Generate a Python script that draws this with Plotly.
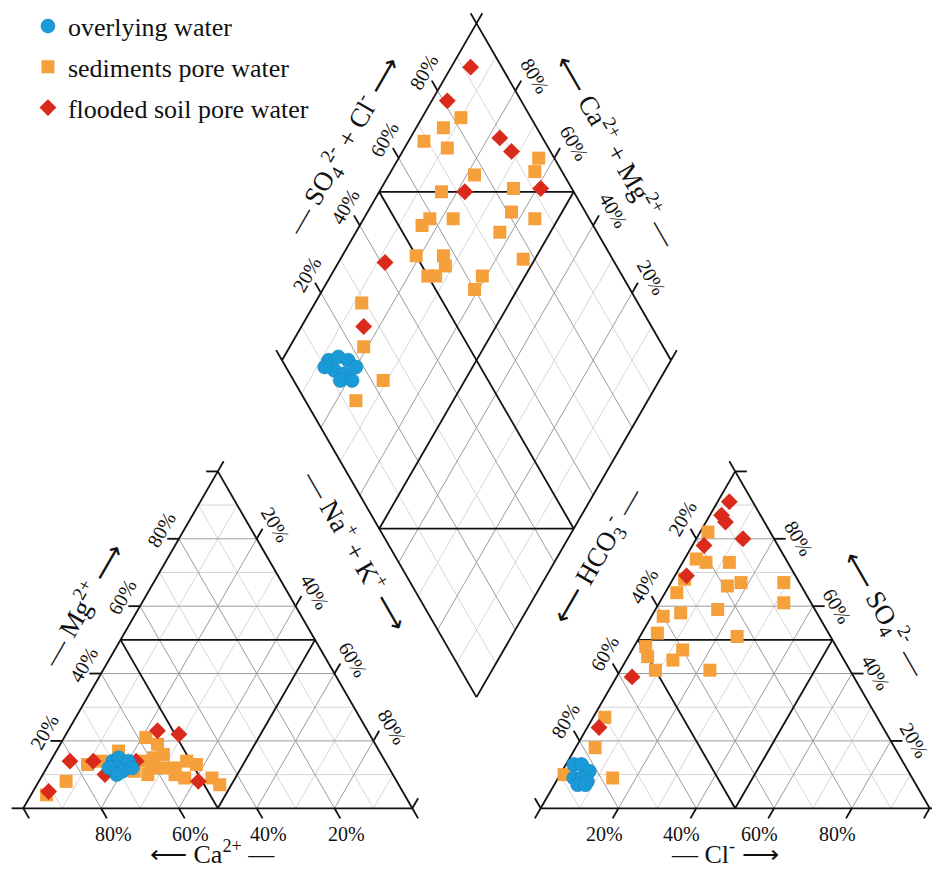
import numpy as np
import plotly.graph_objects as go

# ---------------- values (percent of meq/L) ----------------
# Cation triangle: Ca2+, Mg2+, Na+ + K+
ow_ca  = [70, 68, 66, 70, 69, 66, 72, 71]
ow_mg  = [14, 15, 14, 12, 11, 12, 12, 10]
ow_nak = [16, 17, 20, 18, 20, 22, 16, 19]

sp_ca  = [58, 56, 67, 56, 59, 62, 77, 61, 58, 56, 51, 49, 54, 47, 46, 85, 92, 66, 63, 55, 70, 65, 73]
sp_mg  = [21, 19, 17, 16, 15, 14, 13, 12, 12, 10, 14, 13, 9, 9, 7, 8, 4, 11, 10, 12, 13, 13, 14]
sp_nak = [21, 25, 16, 28, 26, 24, 10, 27, 30, 34, 35, 38, 37, 44, 47, 7, 4, 23, 27, 33, 17, 22, 13]

fs_ca  = [54, 49, 81, 75, 74, 64, 51, 91]
fs_mg  = [23, 22, 14, 14, 10, 14, 8, 5]
fs_nak = [23, 29, 5, 11, 16, 22, 41, 4]

# Anion triangle: HCO3-, SO4 2-, Cl-
ow_hco3 = [85, 83, 82, 87, 85, 84, 87, 85]
ow_so4  = [13, 13, 11, 9, 9, 8, 7, 7]
ow_cl   = [2, 4, 7, 4, 6, 8, 6, 8]

sp_hco3 = [16, 23, 21, 15, 29, 19, 15, 4, 7, 33, 25, 35, 40, 44, 24, 49, 50, 40, 44, 50, 36, 70, 77, 77, 89]
sp_so4  = [82, 74, 73, 73, 68, 66, 67, 67, 61, 64, 59, 58, 57, 52, 51, 48, 45, 47, 44, 41, 41, 27, 18, 9, 10]
sp_cl   = [2, 3, 6, 12, 3, 15, 18, 29, 32, 3, 16, 7, 3, 4, 25, 3, 5, 13, 12, 9, 23, 3, 5, 14, 1]

fs_hco3 = [6, 10, 10, 8, 19, 28, 57, 73]
fs_so4  = [91, 87, 85, 80, 78, 69, 39, 24]
fs_cl   = [3, 3, 5, 12, 3, 3, 4, 3]

# Diamond: SO4 2- + Cl- and Na+ + K+
ow_d_so4cl = [12, 15, 17, 18, 12, 14, 12, 15, 10]
ow_d_nak   = [12, 14, 17, 20, 15, 18, 18, 21, 12]
sp_d_so4cl = [82, 76, 69, 74, 96, 93, 77, 66, 85, 81, 86, 75, 59, 56, 65, 50, 57, 56, 50, 52, 64, 77, 60, 29, 23, 23, 13]
sp_d_nak   = [10, 7, 4, 11, 36, 37, 22, 16, 34, 37, 44, 37, 17, 16, 23, 19, 26, 28, 25, 27, 39, 47, 39, 12, 19, 29, 25]
fs_d_so4cl = [92, 81, 89, 90, 72, 92, 41, 26]
fs_d_nak   = [5, 4, 23, 28, 22, 41, 12, 16]

tick_values = [20, 40, 60, 80]
tick_labels = ["20%", "40%", "60%", "80%"]
series_names = ["overlying water", "sediments pore water", "flooded soil pore water"]

# ---------------- geometry ----------------
H = np.sqrt(3) / 2
GAP = 0.33
XA = 1 + GAP                      # origin of anion triangle
BX, BY = 1 + GAP / 2, GAP * H     # bottom vertex of diamond
TL = 0.03                          # tick length


def tri(x0, right, top):
    return (x0 + right + 0.5 * top, H * top)


def cat_xy(ca, mg, nak):
    ca, mg, nak = map(np.asarray, (ca, mg, nak))
    s = ca + mg + nak
    return tri(0, nak / s, mg / s)


def an_xy(hco3, so4, cl):
    hco3, so4, cl = map(np.asarray, (hco3, so4, cl))
    s = hco3 + so4 + cl
    return tri(XA, cl / s, so4 / s)


def dia(u, v):
    # u: SO4+Cl fraction, v: Ca+Mg fraction
    return (BX + 0.5 * (u - v), BY + H * (u + v))


def dia_xy(so4cl, nak):
    u = np.asarray(so4cl) / 100.0
    v = 1 - np.asarray(nak) / 100.0
    return dia(u, v)


minor, major, bold, ticks = [], [], [], []


def add(lst, p, q):
    lst.append((p, q))


for i in range(1, 10):
    f = i / 10
    lst = bold if i == 5 else (major if i % 2 == 0 else minor)
    for x0 in (0, XA):
        add(lst, tri(x0, 0, f), tri(x0, 1 - f, f))
        add(lst, tri(x0, f, 0), tri(x0, f, 1 - f))
        add(lst, tri(x0, 1 - f, 0), tri(x0, 0, 1 - f))
    if i != 5:
        add(lst, dia(f, 0), dia(f, 1))
        add(lst, dia(0, f), dia(1, f))

# outlines and classification lines
for x0 in (0, XA):
    add(bold, tri(x0, 0, 0), tri(x0, 1, 0))
    add(bold, tri(x0, 1, 0), tri(x0, 0, 1))
    add(bold, tri(x0, 0, 1), tri(x0, 0, 0))
add(bold, dia(0, 0), dia(1, 0))
add(bold, dia(1, 0), dia(1, 1))
add(bold, dia(1, 1), dia(0, 1))
add(bold, dia(0, 1), dia(0, 0))
add(bold, dia(0.5, 0), dia(0.5, 1))
add(bold, dia(0, 0.5), dia(1, 0.5))
add(bold, dia(0.5, 1), dia(1, 0.5))
add(bold, dia(0, 0.5), dia(0.5, 0))


def tick(p, d):
    add(ticks, p, (p[0] + TL * d[0], p[1] + TL * d[1]))


annotations = []


def tlabel(p, off, text, ang):
    annotations.append(dict(x=p[0] + off[0], y=p[1] + off[1], xref="x", yref="y", text=text,
                            showarrow=False, textangle=ang, xanchor="center", yanchor="middle",
                            borderpad=0, font=dict(size=20)))


for k in range(0, 6):
    f = k / 5
    # cation: Mg (left), Na+K (right), Ca (bottom)
    tick(tri(0, 0, f), (-1, 0))
    tick(tri(0, f, 1 - f), (0.5, H))
    tick(tri(0, 1 - f, 0), (0.5, -H))
    # anion: HCO3 (left), SO4 (right), Cl (bottom)
    tick(tri(XA, 0, 1 - f), (-0.5, H))
    tick(tri(XA, 1 - f, f), (1, 0))
    tick(tri(XA, f, 0), (-0.5, -H))
    # diamond: SO4+Cl (upper left), Ca+Mg (upper right)
    tick(dia(f, 1), (-0.5, H))
    tick(dia(1, f), (0.5, H))

for val, lab in zip(tick_values, tick_labels):
    f = val / 100
    tlabel(tri(0, 0, f), (-0.046, 0.023), lab, -60)
    tlabel(tri(0, f, 1 - f), (0.049, 0.036), lab, 60)
    tlabel(tri(0, 1 - f, 0), (0.031, -0.065), lab, 0)
    tlabel(tri(XA, 0, 1 - f), (-0.035, 0.053), lab, -60)
    tlabel(tri(XA, 1 - f, f), (0.062, 0.001), lab, 60)
    tlabel(tri(XA, f, 0), (-0.037, -0.065), lab, 0)
    tlabel(dia(f, 1), (-0.036, 0.049), lab, -60)
    tlabel(dia(1, f), (0.051, 0.039), lab, 60)


def seg_trace(segs, color, width):
    xs, ys = [], []
    for p, q in segs:
        xs += [p[0], q[0], None]
        ys += [p[1], q[1], None]
    return go.Scatter(x=xs, y=ys, mode="lines", line=dict(color=color, width=width),
                      hoverinfo="skip", showlegend=False)


fig = go.Figure()
fig.add_trace(seg_trace(minor, "#d6d6d6", 1))
fig.add_trace(seg_trace(major, "#9c9c9c", 1))
fig.add_trace(seg_trace(bold, "#111111", 1.8))
fig.add_trace(seg_trace(ticks, "#111111", 1.8))

BLUE, ORANGE, RED = "#1a9bd7", "#f5a03a", "#da2a1c"


def combine(*pairs):
    xs, ys = [], []
    for x, y in pairs:
        xs += list(x)
        ys += list(y)
    return xs, ys


sx, sy = combine(cat_xy(sp_ca, sp_mg, sp_nak), an_xy(sp_hco3, sp_so4, sp_cl), dia_xy(sp_d_so4cl, sp_d_nak))
fx, fy = combine(cat_xy(fs_ca, fs_mg, fs_nak), an_xy(fs_hco3, fs_so4, fs_cl), dia_xy(fs_d_so4cl, fs_d_nak))
ox, oy = combine(cat_xy(ow_ca, ow_mg, ow_nak), an_xy(ow_hco3, ow_so4, ow_cl), dia_xy(ow_d_so4cl, ow_d_nak))

fig.add_trace(go.Scatter(x=sx, y=sy, mode="markers", name=series_names[1], legendrank=2,
                         legendgroup="b",
                         marker=dict(symbol="square", size=13, color=ORANGE, line=dict(width=0))))
fig.add_trace(go.Scatter(x=fx, y=fy, mode="markers", name=series_names[2], legendrank=3,
                         legendgroup="c",
                         marker=dict(symbol="diamond", size=13, color=RED, line=dict(width=0))))
fig.add_trace(go.Scatter(x=ox, y=oy, mode="markers", name=series_names[0], legendrank=1,
                         legendgroup="a",
                         marker=dict(symbol="circle", size=14, color=BLUE,
                                     line=dict(width=0.6, color="#1584bd"))))

# ---------------- axis titles (positions in page pixels) ----------------
W_PX, H_PX = 932, 871

ARR_R, ARR_L = "⟶", "⟵"
titles = [
    ("— Mg<sup>2+</sup> " + ARR_R, (81, 604), -60, "middle", 27),
    (ARR_L + " Ca<sup>2+</sup> —", (212, 870), 0, "bottom", 26),
    ("— Na<sup>+</sup> + K<sup>+</sup> " + ARR_R, (357, 550), 60, "middle", 27),
    ("— SO<sub>4</sub><sup>2-</sup> + Cl<sup>-</sup> " + ARR_R, (343, 146), -60, "middle", 27),
    (ARR_L + " Ca<sup>2+</sup> + Mg<sup>2+</sup> —", (618, 150), 60, "middle", 27),
    (ARR_L + " HCO<sub>3</sub><sup>-</sup> —", (597, 556), -60, "middle", 27),
    (ARR_L + " SO<sub>4</sub><sup>2-</sup> —", (885, 614), 60, "middle", 27),
    ("— Cl<sup>-</sup> " + ARR_R, (725, 870), 0, "bottom", 26),
]
for text, (px, py), ang, ya, fsz in titles:
    annotations.append(dict(x=px / W_PX, y=1 - py / H_PX, xref="paper", yref="paper", text=text,
                            showarrow=False, textangle=ang, xanchor="center", yanchor=ya,
                            borderpad=0, font=dict(size=fsz)))


def pix(px, py):
    return ((px - 23.3) / 389.0, (808.3 - py) / 389.0)


x_lo, y_hi = pix(0, 0)
x_hi, y_lo = pix(W_PX, H_PX)

fig.update_layout(
    width=W_PX, height=H_PX,
    margin=dict(l=0, r=0, t=0, b=0),
    paper_bgcolor="white", plot_bgcolor="white",
    font=dict(family="Liberation Serif, Times New Roman, serif", color="#111111"),
    xaxis=dict(range=[x_lo, x_hi], visible=False, fixedrange=True),
    yaxis=dict(range=[y_lo, y_hi], visible=False, fixedrange=True),
    showlegend=True,
    legend=dict(x=0.03, y=0.997, xanchor="left", yanchor="top", bgcolor="rgba(0,0,0,0)",
                font=dict(size=26), tracegroupgap=4, itemsizing="trace"),
    annotations=annotations,
    hovermode=False,
)

fig.write_html("out.html", config={"displayModeBar": False},
               post_script="document.body.style.margin='0';document.body.style.overflow='hidden';")
